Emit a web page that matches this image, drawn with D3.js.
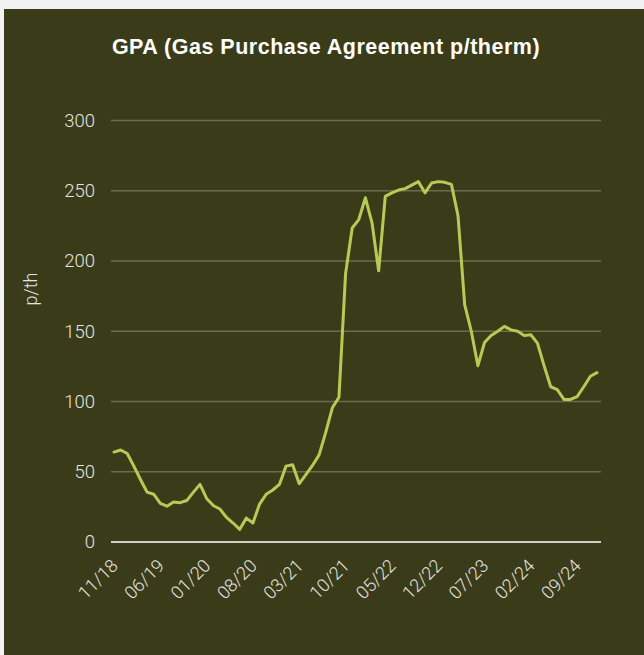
<!DOCTYPE html>
<html>
<head>
<meta charset="utf-8">
<script src="https://cdn.jsdelivr.net/npm/d3@7"></script>
<style>
  html, body { margin: 0; padding: 0; background: #f2f2f2; }
  svg { display: block; }
</style>
</head>
<body>
<svg id="chart" width="644" height="655"></svg>
<script>
const months = [
  "11/18","12/18",
  "01/19","02/19","03/19","04/19","05/19","06/19","07/19","08/19","09/19","10/19","11/19","12/19",
  "01/20","02/20","03/20","04/20","05/20","06/20","07/20","08/20","09/20","10/20","11/20","12/20",
  "01/21","02/21","03/21","04/21","05/21","06/21","07/21","08/21","09/21","10/21","11/21","12/21",
  "01/22","02/22","03/22","04/22","05/22","06/22","07/22","08/22","09/22","10/22","11/22","12/22",
  "01/23","02/23","03/23","04/23","05/23","06/23","07/23","08/23","09/23","10/23","11/23","12/23",
  "01/24","02/24","03/24","04/24","05/24","06/24","07/24","08/24","09/24","10/24","11/24","12/24"
];
const gpa = [
  64, 65.5, 63, 54, 44.5, 35.5, 34, 27.5, 25.5, 28.5, 28, 29.5, 35.5, 41,
  31, 26, 23.5, 17.5, 13.5, 9, 17, 13.5, 27, 34, 37, 41,
  54, 55, 41.5, 48, 54.5, 62, 78, 95.5, 103, 191, 223.5, 229.5,
  245, 227, 193, 246, 248.5, 250.5, 251.5, 254, 256.5, 248.5, 255.5, 256.5,
  256, 254.5, 232, 169, 150, 125.5, 142, 147, 150, 153.5, 151, 150,
  147, 147.5, 141.5, 125.5, 110.5, 108.5, 101.5, 101.5, 103.5, 110.5, 118, 120.5
];
const xTickLabels = ["11/18","06/19","01/20","08/20","03/21","10/21","05/22","12/22","07/23","02/24","09/24"];
const yTicks = [0, 50, 100, 150, 200, 250, 300];
const titleText = "GPA (Gas Purchase Agreement p/therm)";
const yTitle = "p/th";

const svg = d3.select("#chart");
const W = 644, H = 655;

// panel
svg.append("rect").attr("x", 4).attr("y", 9).attr("width", W - 4).attr("height", H - 9)
  .attr("fill", "#3a3c19");

const x = d3.scalePoint().domain(months).range([114, 597]);
const y = d3.scaleLinear().domain([0, 300]).range([542, 120.5]);
const gridX0 = 111, gridX1 = 601;

// gridlines
svg.append("g").selectAll("line").data(yTicks.filter(d => d > 0)).join("line")
  .attr("x1", gridX0).attr("x2", gridX1)
  .attr("y1", d => y(d)).attr("y2", d => y(d))
  .attr("stroke", "#6b6d4c").attr("stroke-width", 1.5);

// zero line
svg.append("line").attr("x1", gridX0).attr("x2", gridX1)
  .attr("y1", y(0)).attr("y2", y(0))
  .attr("stroke", "#cfcfc8").attr("stroke-width", 2);

// y labels
const labelFont = "Roboto, 'Liberation Sans', Arial, sans-serif";
svg.append("g").selectAll("text").data(yTicks).join("text")
  .attr("x", 95).attr("y", d => y(d))
  .attr("dy", "0.35em")
  .attr("text-anchor", "end")
  .attr("font-family", labelFont).attr("font-weight", 300)
  .attr("font-size", 18.5).attr("fill", "#e4e4e0")
  .text(d => d);

// x labels
svg.append("g").selectAll("text").data(xTickLabels).join("text")
  .attr("transform", d => `translate(${x(d) + 5},${y(0) + 25}) rotate(-45)`)
  .attr("text-anchor", "end")
  .attr("font-family", labelFont).attr("font-weight", 300)
  .attr("font-size", 18).attr("fill", "#e4e4e0")
  .text(d => d);

// y title
svg.append("text")
  .attr("transform", `translate(37,289) rotate(-90)`)
  .attr("text-anchor", "middle")
  .attr("font-family", labelFont).attr("font-weight", 300)
  .attr("font-size", 18).attr("fill", "#e4e4e0")
  .text(yTitle);

// title
svg.append("text")
  .attr("x", 326).attr("y", 54)
  .attr("text-anchor", "middle")
  .attr("font-family", "'Liberation Sans', Arial, sans-serif").attr("font-weight", "bold")
  .attr("font-size", 21.5).attr("letter-spacing", 0.5).attr("fill", "#ffffff")
  .text(titleText);

// line
const line = d3.line().x((d, i) => x(months[i])).y(d => y(d));
svg.append("path").datum(gpa)
  .attr("d", line)
  .attr("fill", "none")
  .attr("stroke", "#b6cb55")
  .attr("stroke-width", 3)
  .attr("stroke-linejoin", "round")
  .attr("stroke-linecap", "round");
</script>
</body>
</html>
